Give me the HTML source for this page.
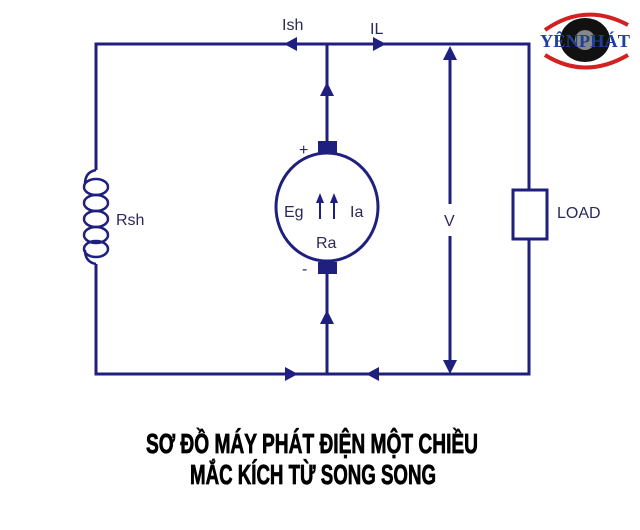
<!DOCTYPE html>
<html><head><style>body{margin:0;background:#fff}svg{display:block}</style></head>
<body>
<svg width="640" height="530" viewBox="0 0 640 530" xmlns="http://www.w3.org/2000/svg">
<g stroke="#1f1f7f" stroke-width="3" fill="none">
<polyline points="96,170 96,44 529,44 529,190"/>
<polyline points="529,239 529,374 96,374 96,264"/>
<line x1="327" y1="44" x2="327" y2="142"/>
<line x1="327" y1="274" x2="327" y2="374"/>
<ellipse cx="327" cy="207" rx="51" ry="54"/>
<rect x="513" y="190" width="34" height="49"/>
<line x1="450" y1="50" x2="450" y2="204"/>
<line x1="450" y1="236" x2="450" y2="368"/>
<path d="M96,170 q-11,2 -11,14 M96,264 q-11,-2 -11,-14" stroke-width="2.5"/>
<g stroke-width="2.5">
<ellipse cx="96" cy="187" rx="12" ry="8"/>
<ellipse cx="96" cy="203" rx="12" ry="8"/>
<ellipse cx="96" cy="219" rx="12" ry="8"/>
<ellipse cx="96" cy="235" rx="12" ry="8"/>
<ellipse cx="96" cy="249" rx="12" ry="8"/>
</g>
<line x1="320" y1="200" x2="320" y2="219" stroke-width="2"/>
<line x1="334" y1="200" x2="334" y2="219" stroke-width="2"/>
</g>
<g fill="#1f1f7f">
<rect x="318" y="141" width="19" height="13"/>
<rect x="318" y="262" width="19" height="12"/>
<polygon points="320,193 316,203 324,203"/>
<polygon points="334,193 330,203 338,203"/>
<polygon points="327,82 320,96 334,96"/>
<polygon points="327,310 320,324 334,324"/>
<polygon points="284,44 297,37 297,51"/>
<polygon points="386,44 373,37 373,51"/>
<polygon points="298,374 285,367 285,381"/>
<polygon points="366,374 379,367 379,381"/>
<polygon points="450,46 443,60 457,60"/>
<polygon points="450,374 443,360 457,360"/>
</g>
<g fill="#2a2a5a" font-family="Liberation Sans, sans-serif" font-size="16">
<text x="282" y="30">Ish</text>
<text x="370" y="34">IL</text>
<text x="116" y="225">Rsh</text>
<text x="284" y="217">Eg</text>
<text x="350" y="217">Ia</text>
<text x="316" y="248">Ra</text>
<text x="299" y="155">+</text>
<text x="302" y="274">-</text>
<text x="444" y="226">V</text>
<text x="557" y="218">LOAD</text>
</g>
<g font-family="Liberation Sans, sans-serif" font-weight="bold" font-size="28" fill="#000" stroke="#000" stroke-width="0.8">
<text x="146" y="453" textLength="332" lengthAdjust="spacingAndGlyphs">SƠ ĐỒ MÁY PHÁT ĐIỆN MỘT CHIỀU</text>
<text x="190" y="484" textLength="246" lengthAdjust="spacingAndGlyphs">MẮC KÍCH TỪ SONG SONG</text>
</g>
<g>
<path d="M545,30 Q585,2 628,25" stroke="#d32020" stroke-width="4" fill="none"/>
<path d="M545,55 Q585,80 628,55" stroke="#d32020" stroke-width="4" fill="none"/>
<ellipse cx="585" cy="40" rx="25" ry="22" fill="#111"/>
<circle cx="585" cy="40" r="10" fill="#888"/>
<text x="540" y="47" font-family="Liberation Serif, serif" font-weight="bold" font-size="18" fill="#1f3fa0" textLength="90" lengthAdjust="spacingAndGlyphs">YÊNPHÁT</text>
</g>
</svg>
</body></html>
